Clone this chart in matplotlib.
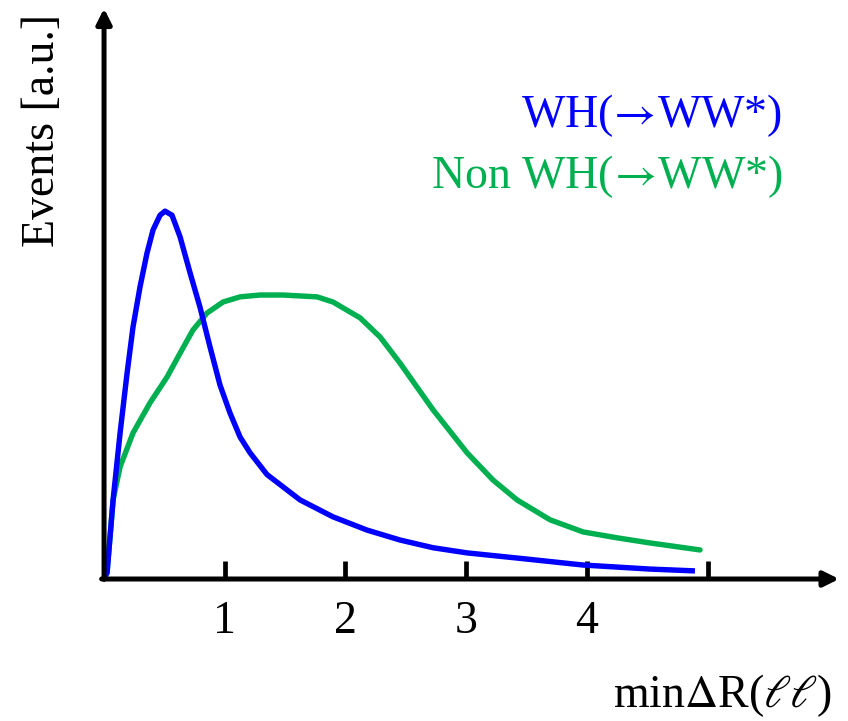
import matplotlib.pyplot as plt

plt.rcParams['mathtext.fontset'] = 'stix'

# curve values (x = minDR, y = events in a.u., peak of WH ~ 1)
wh_x = [0, 0.025, 0.075, 0.133, 0.191, 0.240, 0.298, 0.356, 0.406, 0.464, 0.505,
        0.563, 0.630, 0.713, 0.795, 0.878, 0.961, 1.044, 1.127, 1.210, 1.350,
        1.624, 1.897, 2.179, 2.452, 2.726, 3.008, 3.422, 3.969, 4.524, 4.896]
wh_y = [0, 0.014, 0.212, 0.394, 0.557, 0.682, 0.791, 0.883, 0.946, 0.986, 0.997,
        0.986, 0.927, 0.829, 0.736, 0.628, 0.524, 0.448, 0.383, 0.340, 0.281,
        0.212, 0.166, 0.130, 0.103, 0.082, 0.068, 0.054, 0.035, 0.024, 0.019]

non_x = [0, 0.025, 0.075, 0.133, 0.240, 0.381, 0.522, 0.630, 0.737, 0.853, 0.986,
         1.127, 1.292, 1.483, 1.765, 1.897, 2.121, 2.287, 2.452, 2.726, 3.008,
         3.223, 3.422, 3.695, 3.969, 4.250, 4.524, 4.938]
non_y = [0, 0.014, 0.212, 0.302, 0.394, 0.476, 0.546, 0.611, 0.674, 0.720, 0.750,
         0.764, 0.769, 0.769, 0.764, 0.750, 0.707, 0.655, 0.584, 0.457, 0.340,
         0.266, 0.212, 0.158, 0.125, 0.109, 0.095, 0.076]

tick_vals = [1, 2, 3, 4, 5]
tick_labels = ['1', '2', '3', '4', '']

blue = '#0000FF'
green = '#00B050'
serif = ['Liberation Serif', 'DejaVu Serif']
fs = 33

fig = plt.figure(figsize=(8.48, 7.21), dpi=100)
ax = fig.add_axes([0, 0, 1, 1])
ax.set_xlim(-0.862, 6.164)
ax.set_ylim(-0.389, 1.571)
ax.axis('off')

# axes with arrow heads
arrow = dict(arrowstyle='-|>,head_length=0.9,head_width=0.45', lw=3.6, color='black',
             shrinkA=0, shrinkB=0)
ax.annotate('', xy=(0, 1.548), xytext=(0, -0.004), arrowprops=arrow)
ax.annotate('', xy=(6.09, -0.003), xytext=(-0.02, -0.003), arrowprops=arrow)

for v, lab in zip(tick_vals, tick_labels):
    ax.plot([v, v], [0, 0.045], color='black', lw=3.4, solid_capstyle='butt')
    ax.text(v, -0.118, lab, ha='center', va='center', fontsize=fs, family=serif)

ax.plot(non_x, non_y, color=green, lw=3.9, solid_capstyle='round', solid_joinstyle='round')
ax.plot(wh_x, wh_y, color=blue, lw=3.9, solid_capstyle='butt', solid_joinstyle='round')

ax.text(5.62, 1.226, r'WH($\!\rightarrow\!$WW*)', color=blue, ha='right', va='baseline',
        fontsize=fs, family=serif)
ax.text(5.62, 1.060, r'Non WH($\!\rightarrow\!$WW*)', color=green, ha='right', va='baseline',
        fontsize=fs, family=serif)

ax.text(-0.51, 1.217, 'Events [a.u.]', rotation=90, ha='center', va='center',
        fontsize=fs, family=serif)
ax.text(6.03, -0.352, r'min$\Delta$R($\ell\ell$)', ha='right', va='baseline',
        fontsize=fs, family=serif)

fig.savefig('out.png', dpi=100)
